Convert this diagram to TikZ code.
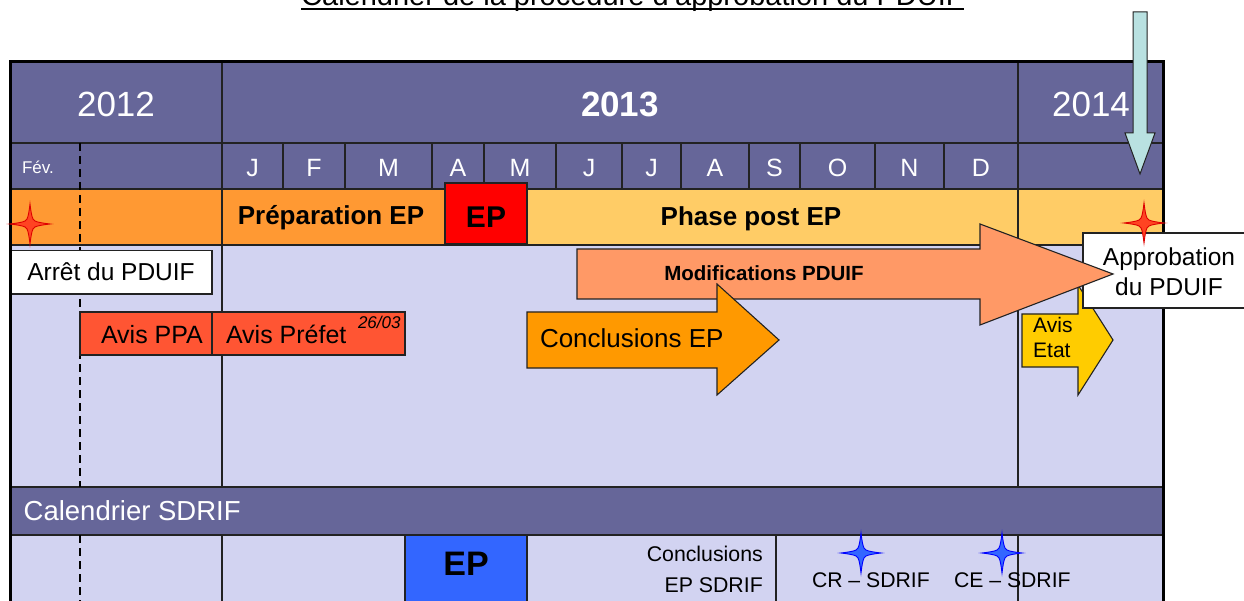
\documentclass[tikz,border=0pt]{standalone}
\usepackage{fontspec}
\setmainfont{Liberation Sans}
\definecolor{hdr}{HTML}{666699}
\definecolor{lav}{HTML}{D2D3F1}
\definecolor{orgA}{HTML}{FF9933}
\definecolor{orgB}{HTML}{FFCC66}
\definecolor{epred}{HTML}{FF0000}
\definecolor{avis}{HTML}{FF5533}
\definecolor{modif}{HTML}{FF9966}
\definecolor{concl}{HTML}{FF9900}
\definecolor{etat}{HTML}{FFCC00}
\definecolor{epblue}{HTML}{3366FF}
\definecolor{cyanarrow}{HTML}{B9E1E1}
\definecolor{gridc}{HTML}{222222}
\definecolor{starred}{HTML}{FF4422}
\definecolor{staredge}{HTML}{DD0000}
\newcommand{\fsz}[2]{\fontsize{#1}{#2}\selectfont}
\tikzset{
  gridline/.style={draw=gridc, line width=1.3pt},
  boxst/.style={draw=gridc, line width=1.3pt, inner sep=0pt, outer sep=0pt},
  txt/.style={inner sep=0pt, outer sep=0pt, anchor=base},
  blockarrow/.style={draw=gridc, line width=1.1pt, line join=miter},
  star4/.pic={\path[pic actions] (0,-20) .. controls (1.5,-7) and (3,-4) .. (4,-4) .. controls (4,-3) and (7,-1.5) .. (20,0) .. controls (7,1.5) and (4,3) .. (4,4) .. controls (3,4) and (1.5,7) .. (0,20) .. controls (-1.5,7) and (-3,4) .. (-4,4) .. controls (-4,3) and (-7,1.5) .. (-20,0) .. controls (-7,-1.5) and (-4,-3) .. (-4,-4) .. controls (-3,-4) and (-1.5,-7) .. cycle;}
}
\begin{document}
\begin{tikzpicture}[x=1pt,y=-1pt]
\clip (0,0) rectangle (1244,601);
% backgrounds
\fill[white] (0,0) rectangle (1244,601);
\fill[lav] (10,62) rectangle (1163,610);
\fill[hdr] (10,62) rectangle (1163,189);
\fill[orgA] (10,189) rectangle (445,245);
\fill[orgB] (527,189) rectangle (1163,245);
\fill[hdr] (10,487) rectangle (1163,535);
% grid
\foreach \yy in {143,189,245,487,535} \draw[gridline] (10,\yy) -- (1163,\yy);
\foreach \xx in {222,1018} {
  \draw[gridline] (\xx,62) -- (\xx,487);
  \draw[gridline] (\xx,535) -- (\xx,610);
}
\foreach \xx in {283,345,432,484,556,622,681,749,800,875,944} \draw[gridline] (\xx,143) -- (\xx,189);
\draw[gridline] (776,535) -- (776,610);
\draw[line width=2pt, dash pattern=on 8pt off 5pt] (80,143) -- (80,487);
\draw[line width=2pt, dash pattern=on 8pt off 5pt] (80,535) -- (80,610);
% boxes
\node[boxst, fill=epred, minimum width=82pt, minimum height=61pt] (epA) at (486,213.5) {};
\node[boxst, fill=epblue, minimum width=122pt, minimum height=80pt] (epB) at (466,575) {};
\node[boxst, fill=white, minimum width=202pt, minimum height=43.5pt] (arret) at (111,272.25) {};
\node[boxst, fill=avis, minimum width=132pt, minimum height=43pt] (ppa) at (146,333.5) {};
\node[boxst, fill=avis, minimum width=193pt, minimum height=43pt] (pref) at (308.5,333.5) {};
% outer border
\draw[line width=3pt] (10,610) -- (10,61.5) -- (1163.3,61.5) -- (1163.3,610);
% arrows
\filldraw[blockarrow, fill=etat] (1022,314) -- (1078,314) -- (1078,285) -- (1113,340) -- (1078,395) -- (1078,367) -- (1022,367) -- cycle;
\node[boxst, fill=white, minimum width=167pt, minimum height=75pt] (appro) at (1166.5,270.5) {};
\filldraw[blockarrow, fill=modif] (577,249) -- (980,249) -- (980,224) -- (1113,274) -- (980,325) -- (980,299) -- (577,299) -- cycle;
\filldraw[blockarrow, fill=concl] (527,312) -- (717,312) -- (717,284) -- (779,340) -- (717,395) -- (717,368) -- (527,368) -- cycle;
% stars
\pic[fill=starred, draw=staredge, line width=0.9pt] (starA) at (30,224) {star4};
\pic[fill=starred, draw=staredge, line width=0.9pt] (starB) at (1144,223) {star4};
\pic[fill=epblue, draw=blue, line width=0.9pt] (starC) at (861,553) {star4};
\pic[fill=epblue, draw=blue, line width=0.9pt] (starD) at (1002,553) {star4};
% title
\node[txt] (title) at (632.5,5.5) {\fsz{29}{34}Calendrier de la procédure d'approbation du PDUIF};
\draw[line width=2.3pt] ([yshift=-3.7pt]title.base west) -- ([yshift=-3.7pt]title.base east);
% header texts
\node[txt, text=white] (y2012) at (116,117) {\fsz{35}{40}2012};
\node[txt, text=white] (y2013) at (620,117) {\fsz{35}{40}\bfseries 2013};
\node[txt, text=white] (y2014) at (1091,117) {\fsz{35}{40}2014};
\node[txt, anchor=base west, text=white] (fev) at (22,174) {\fsz{17}{20}Fév.};
\foreach \cx/\ml [count=\i] in {252.5/J,314/F,388.5/M,458/A,520/M,589/J,651.5/J,715/A,774.5/S,837.5/O,909.5/N,981/D}
  \node[txt, text=white] (m\i) at (\cx,177) {\fsz{25}{30}\ml};
% row texts
\node[txt] (prep) at (331,225) {\fsz{26}{30}\bfseries Préparation EP};
\node[txt] (epAt) at (486,228) {\fsz{30}{34}\bfseries EP};
\node[txt] (phase) at (751,226) {\fsz{26}{30}\bfseries Phase post EP};
\node[txt] (arrett) at (111,281) {\fsz{24.5}{29}Arrêt du PDUIF};
\node[txt, anchor=base west] (ppat) at (101,343) {\fsz{25}{30}Avis PPA};
\node[txt, anchor=base west] (preft) at (226,343) {\fsz{25}{30}Avis Préfet};
\node[txt, anchor=base west] (date) at (358,328) {\fsz{17}{20}\itshape 26/03};
\node[txt] (modift) at (764,281) {\fsz{20.5}{24}\bfseries Modifications PDUIF};
\node[txt, anchor=base west] (conclt) at (540,348) {\fsz{26}{30}Conclusions EP};
\node[inner sep=0pt, align=left, anchor=west, font=\fsz{21}{25}] (etatt) at (1033,337.9) {Avis\\Etat};
\node[inner sep=0pt, align=center, font=\fsz{24.5}{30}] (approt) at (1169,272) {Approbation\\du PDUIF};
% SDRIF
\node[txt, anchor=base west, text=white] (sdrif) at (23.7,520) {\fsz{27.5}{32}Calendrier SDRIF};
\node[txt] (epBt) at (466,575) {\fsz{34}{38}\bfseries EP};
\node[inner sep=0pt, align=right, anchor=east, font=\fsz{21.3}{31}] (conclsd) at (763,569.75) {Conclusions\\EP SDRIF};
\node[txt, anchor=base west] (cr) at (812,587) {\fsz{21.2}{25}CR – SDRIF};
\node[txt, anchor=base west] (ce) at (954,587) {\fsz{21.2}{25}CE – SDRIF};
% cyan arrow
\filldraw[draw=gridc, line width=1pt, fill=cyanarrow] (1133,12) -- (1147,12) -- (1147,133) -- (1155,133) -- (1140,174) -- (1125,133) -- (1133,133) -- cycle;
\end{tikzpicture}
\end{document}
